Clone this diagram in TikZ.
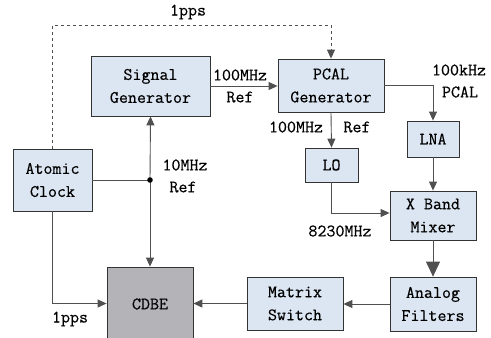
\documentclass[tikz,border=0pt]{standalone}
\usepackage{fontspec}
\usepackage{tikz}
\usetikzlibrary{arrows.meta}
\newfontfamily\diagfont{Latin Modern Mono}[FakeBold=0.4]
\definecolor{boxblue}{RGB}{220,230,242}
\definecolor{boxgray}{RGB}{180,180,184}
\definecolor{linegray}{RGB}{80,80,80}

\begin{document}
\begin{tikzpicture}[x=1pt,y=-1pt,
    font=\diagfont\fontsize{17.5}{23}\selectfont,
    >={Triangle[length=9pt,width=8pt]}]
\useasboundingbox (0,0) rectangle (491,338);
\begin{scope}
\clip (0,0) rectangle (491,338);
\begin{scope}[every node/.style={draw=black!80,thick,fill=boxblue,align=center,inner sep=0pt}]
    \node (sig)[minimum width=119pt,minimum height=60pt] at (150.5,86) {Signal\\Generator};
    \node (pcal)[minimum width=106pt,minimum height=53pt] at (331,85.5) {PCAL\\Generator};
    \node (lna)[minimum width=52pt,minimum height=36pt] at (433,139) {LNA};
    \node (lo)[minimum width=53pt,minimum height=34pt] at (331.5,165) {LO};
    \node (mix)[minimum width=86pt,minimum height=49pt] at (433,215.5) {X Band\\Mixer};
    \node (filt)[minimum width=86pt,minimum height=54pt] at (433,304) {Analog\\Filters};
    \node (mat)[minimum width=96pt,minimum height=53pt] at (295,303.5) {Matrix\\Switch};
    \node (clock)[minimum width=79pt,minimum height=62pt] at (52.5,180) {Atomic\\Clock};
    \node (cdbe)[fill=boxgray,minimum width=86pt,minimum height=78pt] at (150,306) {};
\end{scope}
\end{scope}
\node at (150,304) {CDBE};
\coordinate (jn) at (150,180);
\coordinate (top) at (52.5,25);

\begin{scope}[every path/.style={draw=linegray,line width=0.9pt}]
    \draw[->,dashed] (clock.north) -- (top) -| (pcal.north);
    \draw[->] (sig.east) -- (sig.east -| pcal.west);
    \draw[->] (pcal.south) -- (lo.north);
    \draw[->] (pcal.east) -| (lna.north);
    \draw[->] (lna.south) -- (mix.north);
    \draw[->] (lo.south) |- ([yshift=2.5pt]mix.west);
    \draw[-{Triangle[length=15pt,width=14pt]}] (mix.south) -- (filt.north);
    \draw[->] (filt.west) -- (filt.west -| mat.east);
    \draw[->] (mat.west) -- (mat.west -| cdbe.east);
    \draw (clock.east) -- (jn);
    \draw[->] (jn) -- (sig.south);
    \draw[->] (jn) -- (cdbe.north);
    \draw[->] (clock.south) |- (mat.west -| cdbe.west);
\end{scope}
\fill[black] (jn) circle (2.8pt);

% labels
\node at (188,12) {1pps};
\node at (240,75) {100MHz};
\node at (240,97) {Ref};
\node at (296,127) {100MHz};
\node at (357,127) {Ref};
\node at (459,70) {100kHz};
\node at (460,92) {PCAL};
\node at (185,165) {10MHz};
\node at (183,187) {Ref};
\node at (340,231) {8230MHz};
\node at (70,319) {1pps};
\end{tikzpicture}
\end{document}
